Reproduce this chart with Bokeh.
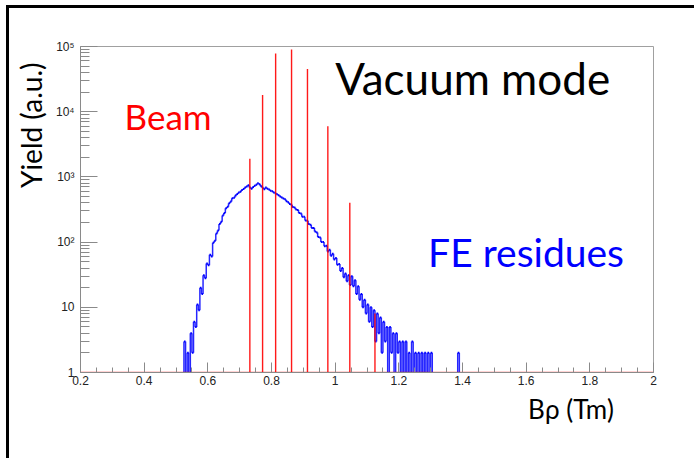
import numpy as np
from bokeh.plotting import figure
from bokeh.models import FixedTicker, Label, Range1d, Title
from bokeh.embed import file_html
from bokeh.resources import INLINE

# ---- data ----
# FE residues histogram (blue): bin left edges start, bin width, counts
fe_start = 0.520
fe_width = 0.005
fe_counts = [
    1, 3, 1, 2, 1, 4, 2, 6, 5, 11,             # 0.520 - 0.565
    9, 20, 16, 31, 28, 47, 44, 64, 60, 98,     # 0.570 - 0.615
    105, 136, 150, 190, 205, 255, 280, 330, 350, 395,  # 0.620 - 0.665
    420, 470, 480, 520, 545, 575, 590, 630, 655, 690,  # 0.670 - 0.715
    710, 745, 690, 660, 700, 730, 760, 800, 770, 720,  # 0.720 - 0.765
    680, 645, 690, 660, 640, 615, 600, 575, 560, 540,  # 0.770 - 0.815
    525, 500, 485, 465, 455, 425, 410, 385, 375, 345,  # 0.820 - 0.865
    340, 315, 310, 280, 275, 245, 245, 215, 212, 190,  # 0.870 - 0.915
    185, 165, 165, 145, 140, 120, 118, 100, 100, 86,   # 0.920 - 0.965
    88, 72, 76, 62, 66, 54, 57, 45, 46, 36,            # 0.970 - 1.015
    40, 29, 33, 25, 31, 22, 30, 21, 26, 16,            # 1.020 - 1.065
    21, 13, 16, 10, 13, 8, 11, 6, 10, 5,               # 1.070 - 1.115
    9, 3, 8, 4, 7, 2, 6, 3, 5, 1,                      # 1.120 - 1.165
    5, 2, 4, 1, 4, 2, 3, 1, 3, 1,                      # 1.170 - 1.215
    3, 1, 2, 1, 3, 1, 2, 1, 2, 1,                      # 1.220 - 1.265
    2, 1, 2, 1, 2, 1, 2, 1, 0, 0,                      # 1.270 - 1.315
    0, 0, 0, 0, 0, 0, 0, 0, 0, 0,                      # 1.320 - 1.365
    0, 0, 0, 2, 0,                                     # 1.370 - 1.390
]

# Beam peaks (red)
beam_x = [0.732, 0.772, 0.813, 0.863, 0.913, 0.977, 1.046, 1.125]
beam_y = [1900, 18000, 78000, 90000, 45000, 6000, 400, 8]

x_range = (0.2, 2.0)
y_range = (1, 1e5)
x_major = [0.2, 0.4, 0.6, 0.8, 1.0, 1.2, 1.4, 1.6, 1.8, 2.0]
y_major = [1, 10, 100, 1000, 10000, 100000]
y_labels = ["1", "10", "10²", "10³", "10⁴", "10⁵"]

# ---- figure ----
p = figure(width=694, height=458, output_backend="svg", toolbar_location=None,
           x_range=Range1d(*x_range), y_range=Range1d(*y_range), y_axis_type="log",
           min_border_left=80, min_border_right=41, min_border_top=46, min_border_bottom=86)
p.border_fill_color = None
p.background_fill_color = "white"
p.styles = {
    "background": "linear-gradient(#000,#000) 6px 5px / 3px 100% no-repeat,"
                  " linear-gradient(#000,#000) 6px 5px / 100% 3px no-repeat, white"
}
p.grid.visible = False
p.outline_line_color = "#a0a0a0"
p.outline_line_width = 1

minor_x = [round(v, 3) for v in np.arange(0.2, 2.0001, 0.05) if round(v, 3) not in x_major]
p.xaxis.ticker = FixedTicker(ticks=x_major, minor_ticks=minor_x)
minor_y = [k * 10.0 ** d for d in range(0, 5) for k in range(2, 10)]
p.yaxis.ticker = FixedTicker(ticks=y_major, minor_ticks=minor_y)
p.yaxis.major_label_overrides = {v: s for v, s in zip(y_major, y_labels)}
p.xaxis.major_label_overrides = {v: ("1" if v == 1.0 else ("2" if v == 2.0 else f"{v:g}")) for v in x_major}

for ax in (p.xaxis[0], p.yaxis[0]):
    ax.axis_line_color = "#8a8a8a"
    ax.major_tick_line_color = "#8a8a8a"
    ax.minor_tick_line_color = "#8a8a8a"
    ax.major_tick_out = 0
    ax.minor_tick_out = 0
    ax.major_label_text_font = "Liberation Sans"
    ax.major_label_text_font_size = "12px"
    ax.major_label_text_color = "#222222"
p.xaxis.major_tick_in = 10
p.xaxis.minor_tick_in = 5
p.xaxis.major_label_standoff = 3
p.yaxis.major_tick_in = 17
p.yaxis.minor_tick_in = 9
p.yaxis.major_label_standoff = 6

# ---- blue histogram outline ----
counts = np.array(fe_counts, dtype=float)
n = len(counts)
edges = fe_start + fe_width * np.arange(n + 1)
vals = np.maximum(counts, 1.0)
top = vals > 1
p.segment(x0=edges[:-1][top], y0=vals[top], x1=edges[1:][top], y1=vals[top],
          line_color="#0000ff", line_width=2.0)
prev = np.concatenate([[1.0], vals])
nxt = np.concatenate([vals, [1.0]])
p.segment(x0=edges, y0=prev, x1=edges, y1=nxt, line_color="#0000ff", line_width=1.5, line_alpha=0.85)

# ---- red beam histogram ----
p.segment(x0=[x_range[0]], y0=[1], x1=[x_range[1]], y1=[1], line_color="#ff0000",
          line_alpha=0.35, line_width=2)
p.segment(x0=beam_x, y0=[1] * len(beam_x), x1=beam_x, y1=beam_y,
          line_color="#ff0000", line_width=1.4, line_alpha=0.9)

# ---- texts inside the frame ----
def lab(text, x, y, size, color):
    p.add_layout(Label(x=x, y=y, text=text, text_font="Lato", text_font_size=size,
                       text_color=color, text_align="left", text_baseline="alphabetic"))

lab("Vacuum mode", 1.0, 33000, "44px", "#000000")
lab("Beam", 0.3385, 8600, "35px", "#ff0000")
lab("FE residues", 1.292, 70, "39px", "#0000ff")

# ---- axis titles outside the frame ----
xt = Title(text="Bρ (Tm)", align="right", offset=40, standoff=6,
           text_font="Lato", text_font_size="26px", text_font_style="normal",
           text_color="#000000")
p.add_layout(xt, "below")
yt = Title(text="Yield (a.u.)", align="right", offset=16, standoff=10,
           text_font="Lato", text_font_size="28px", text_font_style="normal",
           text_color="#000000")
p.add_layout(yt, "left")

open("out.html", "w").write(file_html(p, INLINE))
